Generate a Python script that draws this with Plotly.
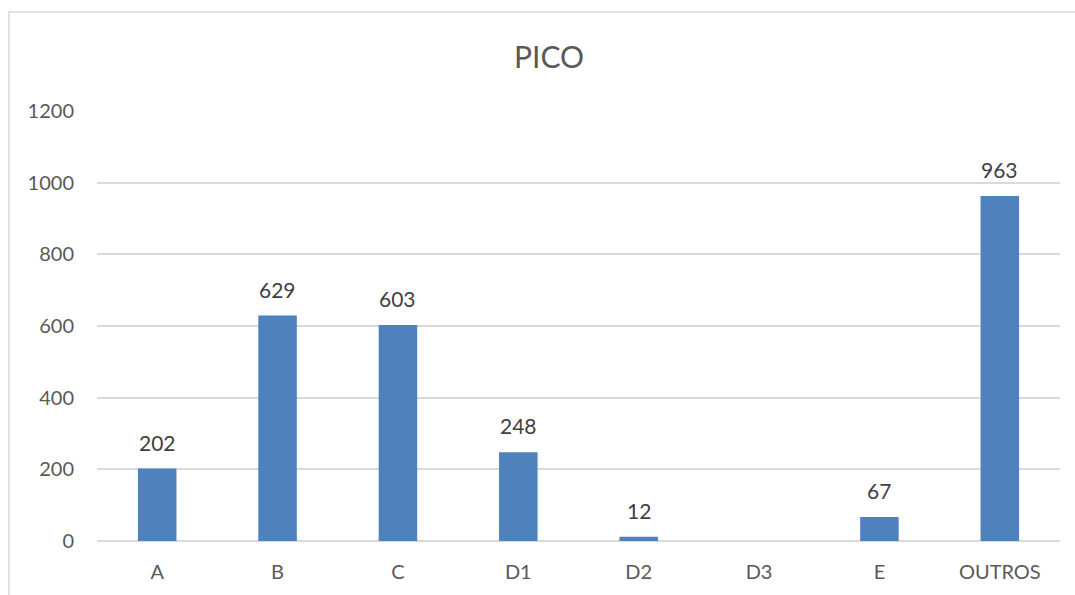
import plotly.graph_objects as go

categories = ["A", "B", "C", "D1", "D2", "D3", "E", "OUTROS"]
values = [202, 629, 603, 248, 12, None, 67, 963]
y_ticks = [0, 200, 400, 600, 800, 1000, 1200]

W, H = 1075, 595
L, R, T, B = 97, 15, 111, 54
pw, ph = W - L - R, H - T - B

FONT = "Lato"

fig = go.Figure()
fig.add_trace(go.Bar(
    x=categories, y=values,
    marker=dict(color="#4F81BD", line=dict(width=0)),
    width=0.32,
    hoverinfo="x+y",
))

for c, v in zip(categories, values):
    if v is None:
        continue
    fig.add_annotation(x=c, y=v, xref="x", yref="y", text=str(v), showarrow=False,
                       yanchor="bottom", yshift=12,
                       font=dict(family=FONT, size=21, color="#404040"))

fig.update_layout(
    width=W, height=H,
    margin=dict(l=L, r=R, t=T, b=B),
    paper_bgcolor="white", plot_bgcolor="white",
    showlegend=False,
    title=dict(text="PICO", x=549 / W, xanchor="center", y=1 - 57 / H, yanchor="middle",
               font=dict(family=FONT, size=30, color="#595959")),
    xaxis=dict(showgrid=False, showline=False, zeroline=False, ticks="",
               tickfont=dict(family=FONT, size=20, color="#595959"),
               ticklabelstandoff=17),
    yaxis=dict(range=[0, 1200], tickvals=y_ticks, showgrid=True, gridcolor="#D9D9D9",
               gridwidth=1.5, zeroline=True, zerolinecolor="#D9D9D9", zerolinewidth=1.5,
               showline=False, ticks="",
               tickfont=dict(family=FONT, size=20, color="#595959"),
               ticklabelstandoff=22),
)

# outer chart border (cropped at right/bottom)
x0 = (9 - L) / pw
y1 = 1 + (T - 12) / ph
fig.add_shape(type="rect", xref="paper", yref="paper",
              x0=x0, x1=1.2, y0=-0.3, y1=y1,
              line=dict(color="#D9D9D9", width=1.5), fillcolor="rgba(0,0,0,0)",
              layer="below")

fig.write_html("out.html")
